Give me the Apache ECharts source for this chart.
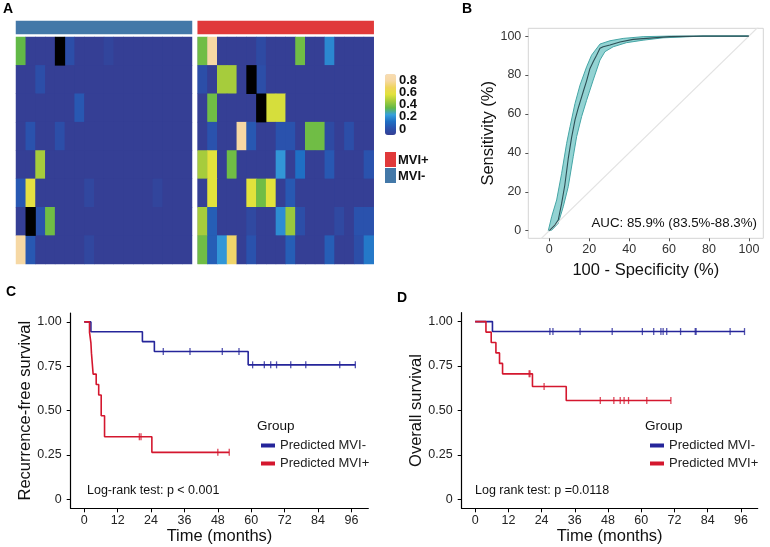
<!DOCTYPE html>
<html><head><meta charset="utf-8">
<script src="https://cdn.jsdelivr.net/npm/echarts@6/dist/echarts.min.js"></script>
<style>html,body{margin:0;padding:0;background:#fff}#c{width:770px;height:547px}</style>
</head><body><div id="c"></div>
<script>
// ---------- Panel A: heatmap ----------
const heatRowIds = ['r1','r2','r3','r4','r5','r6','r7','r8'];
const mviNegColIds = Array.from({length:18},(_,i)=>'n'+(i+1));
const mviPosColIds = Array.from({length:18},(_,i)=>'p'+(i+1));
const mviNegValues = [
  [0.4,0,0,0,1.0,0.08,0,0,0,0.03,0,0,0,0,0,0,0,0],
  [0,0,0.08,0,0,0,0,0,0,0,0,0,0,0,0,0,0,0],
  [0,0,0,0,0,0,0.12,0,0,0,0,0,0,0,0,0,0,0],
  [0,0.1,0,0,0.08,0,0,0,0,0,0,0,0,0,0,0,0,0],
  [0,0,0.5,0,0,0,0,0,0,0,0,0,0,0,0,0,0,0],
  [0.12,0.62,0,0,0,0,0,0.04,0,0,0,0,0,0,0.03,0,0,0],
  [0,1.0,0.1,0.42,0,0,0,0,0,0,0,0,0,0,0,0,0,0],
  [0.8,0.12,0,0,0,0,0,0.04,0,0,0,0,0,0,0,0,0,0]
];
const mviPosValues = [
  [0.42,0.8,0,0,0,0,0.06,0,0,0,0.42,0,0,0.25,0,0,0,0],
  [0.08,0,0.5,0.5,0,1.0,0.08,0,0,0,0,0,0,0,0,0,0,0],
  [0,0.42,0,0,0,0,1.0,0.58,0.58,0,0,0,0,0,0,0,0,0],
  [0,0.1,0,0,0.8,0.12,0,0,0.1,0.1,0,0.42,0.42,0.06,0,0.08,0,0],
  [0.5,0.6,0,0.42,0,0,0,0,0.28,0,0.2,0,0,0.12,0,0,0,0.1],
  [0,0.6,0,0,0,0.6,0.42,0.6,0,0.12,0,0,0,0,0,0,0,0],
  [0.5,0.14,0,0,0,0.05,0,0,0.26,0.48,0.08,0,0,0,0.05,0,0.1,0.1],
  [0.42,0.14,0.28,0.72,0,0.1,0,0,0,0.14,0,0,0,0.14,0,0,0.08,0.22]
];
const colorScaleMax = 0.9;
const colorScaleColors = ['#353f95','#2a52ad','#1f6fc4','#37a0dc','#62b947','#a6cc3c','#e2e23c','#efd45c','#f6d8a4','#f8dcb2'];
const colorbarTicks = [0,0.2,0.4,0.6,0.8];
const groupNames = ['MVI-','MVI+'];
const groupColors = {'MVI-':'#4378a8','MVI+':'#e0393a'};

// ---------- Panel B: ROC ----------
const rocCurve = [[0,0],[2.8,2.9],[4.5,5.5],[6.2,14],[7.8,23.5],[9.5,37],[11.2,48],[12.9,57],[14.5,63],[17,71.4],[18.7,77],[20.4,83.4],[22,86.8],[23.7,90.2],[25.4,93.7],[27,94.5],[30.4,95.4],[35.4,97],[42,98.3],[52,99.1],[60.4,99.7],[77,100],[100,100]];
const rocUpper = [[-0.5,0],[1.2,7.2],[3.7,15.8],[6.2,29.5],[8.7,44.9],[10.4,53.4],[12.9,65.4],[15.4,74.8],[18.7,84.2],[21.2,90.2],[25.4,95.9],[30.4,97.6],[37,98.8],[47,99.7],[60.4,100],[100,100]];
const rocLower = [[0,0],[1.2,0.3],[4.5,3.8],[7,12.3],[9.5,22.6],[12,38],[13.7,48.3],[16.2,58.6],[18.7,67],[22,77.4],[25.4,87.7],[27.9,92],[32,94.5],[38.6,96.6],[47,97.9],[57,99.1],[70.4,99.7],[77,100],[100,100]];
const rocTicks = [0,20,40,60,80,100];
const aucText = 'AUC: 85.9% (83.5%-88.3%)';

// ---------- Panels C/D: Kaplan-Meier ----------
const kmTimeTicks = [0,12,24,36,48,60,72,84,96];
const kmSurvTicks = [0,0.25,0.5,0.75,1];
const rfsNeg = [[0,1],[2.4,0.944],[20.9,0.889],[25.2,0.833],[58.9,0.758],[97.4,0.758]];
const rfsNegCensor = [[28.4,0.833],[38.0,0.833],[49.6,0.833],[55.6,0.833],[60.5,0.758],[64.7,0.758],[67.0,0.758],[69.1,0.758],[74.2,0.758],[79.6,0.758],[91.8,0.758],[97.4,0.758]];
const rfsPos = [[0,1],[1.9,0.941],[2.4,0.882],[2.6,0.824],[2.9,0.765],[3.2,0.706],[4.3,0.647],[5.2,0.588],[6.1,0.471],[7.3,0.353],[24.3,0.265],[52.1,0.265]];
const rfsPosCensor = [[19.8,0.353],[20.4,0.353],[48.0,0.265],[52.1,0.265]];
const osNeg = [[0,1],[6.25,0.944],[97.3,0.944]];
const osNegCensor = [[27.0,0.944],[28.1,0.944],[37.9,0.944],[49.5,0.944],[60.4,0.944],[64.5,0.944],[67.1,0.944],[67.9,0.944],[69.2,0.944],[74.2,0.944],[79.5,0.944],[79.8,0.944],[92.1,0.944],[97.3,0.944]];
const osPos = [[0,1],[3.9,0.941],[5.8,0.882],[7.5,0.824],[8.8,0.765],[9.9,0.706],[20.7,0.635],[32.9,0.556],[70.7,0.556]];
const osPosCensor = [[19.5,0.706],[19.8,0.706],[24.9,0.635],[45.2,0.556],[50.1,0.556],[52.4,0.556],[53.8,0.556],[55.4,0.556],[62.0,0.556],[70.7,0.556]];
const kmNames = ['Predicted MVI-','Predicted MVI+'];
const kmColors = ['#25259a','#d4172e'];

const FONT = 'Liberation Sans, Arial, Helvetica, sans-serif';

function heatData(values, keepSaturated){
  const out = [];
  values.forEach((row,r)=>row.forEach((v,c)=>{
    const sat = v > colorScaleMax;
    if (sat === keepSaturated) out.push([c,r,v]);
  }));
  return out;
}

const chart = echarts.init(document.getElementById('c'), null, {renderer:'canvas'});

const kmX = (gi, name) => ({
  gridIndex: gi, type:'value', min:-4.86, max:102.06,
  axisLine:{show:true, onZero:false, lineStyle:{color:'#000', width:1.2}},
  axisTick:{show:true, length:4, lineStyle:{color:'#000'}, customValues: kmTimeTicks},
  axisLabel:{customValues: kmTimeTicks, color:'#222', fontSize:12.5, fontFamily:FONT, margin:6, showMinLabel:true, showMaxLabel:true},
  splitLine:{show:false},
  name, nameLocation:'middle', nameGap:16, nameTextStyle:{fontSize:16.5, color:'#111', fontFamily:FONT}
});
const kmY = (gi, name) => ({
  gridIndex: gi, type:'value', min:-0.05, max:1.05,
  axisLine:{show:true, onZero:false, lineStyle:{color:'#000', width:1.2}},
  axisTick:{show:true, length:4, lineStyle:{color:'#000'}, customValues: kmSurvTicks},
  axisLabel:{customValues: kmSurvTicks, color:'#222', fontSize:12.5, fontFamily:FONT, margin:9, showMinLabel:true, showMaxLabel:true,
    formatter: v => v === 0 ? '0' : v.toFixed(2)},
  splitLine:{show:false},
  name, nameLocation:'middle', nameGap:35, nameTextStyle:{fontSize:16.5, color:'#111', fontFamily:FONT}
});

const kmLine = (name, data, color, xi) => ({
  type:'line', name, data, step:'end', xAxisIndex:xi, yAxisIndex:xi, symbol:'none',
  lineStyle:{color, width:1.6}, itemStyle:{color}, silent:true
});
const kmCens = (data, color, xi) => ({
  type:'scatter', name:'censor', data, xAxisIndex:xi, yAxisIndex:xi, symbol:'rect', symbolSize:[1.3,7],
  itemStyle:{color}, silent:true
});

const staticGraphics = [
  {type:'text', left:3, top:2, style:{text:'A', font:'bold 14px '+FONT, fill:'#000'}},
  {type:'text', left:462, top:2, style:{text:'B', font:'bold 14px '+FONT, fill:'#000'}},
  {type:'text', left:6, top:285, style:{text:'C', font:'bold 14px '+FONT, fill:'#000'}},
  {type:'text', left:397, top:291, style:{text:'D', font:'bold 14px '+FONT, fill:'#000'}},
  {type:'rect', shape:{x:385, y:152, width:11, height:15}, style:{fill:groupColors['MVI+']}},
  {type:'rect', shape:{x:385, y:168, width:11, height:15}, style:{fill:groupColors['MVI-']}},
  {type:'text', x:398, y:160, style:{text:'MVI+', font:'bold 13px '+FONT, fill:'#111', verticalAlign:'middle'}},
  {type:'text', x:398, y:176, style:{text:'MVI-', font:'bold 13px '+FONT, fill:'#111', verticalAlign:'middle'}},
  {type:'text', x:757, y:223, style:{text:aucText, font:'13.3px '+FONT, fill:'#111', align:'right', verticalAlign:'middle'}},
  {type:'text', x:257, y:426, style:{text:'Group', font:'13.5px '+FONT, fill:'#111', verticalAlign:'middle'}},
  {type:'text', x:645, y:426, style:{text:'Group', font:'13.5px '+FONT, fill:'#111', verticalAlign:'middle'}},
  {type:'text', x:87, y:491, style:{text:'Log-rank test: p < 0.001', font:'12.5px '+FONT, fill:'#111', verticalAlign:'middle'}},
  {type:'text', x:475, y:491, style:{text:'Log rank test: p =0.0118', font:'12.5px '+FONT, fill:'#111', verticalAlign:'middle'}}
];

const option = {
  animation:false,
  textStyle:{fontFamily:FONT},
  grid:[
    {left:16, top:37, width:176, height:227, show:true, backgroundColor:colorScaleColors[0], borderWidth:0},
    {left:197.7, top:37, width:176, height:227, show:true, backgroundColor:colorScaleColors[0], borderWidth:0},
    {left:16, top:21, width:176, height:13},
    {left:197.7, top:21, width:176, height:13},
    {left:385, top:74, width:11, height:61},
    {left:528.3, top:28.3, width:235, height:210, show:true, borderColor:'#d4d4d4', borderWidth:1},
    {left:70.7, top:313, width:297.6, height:195.3},
    {left:461.7, top:312.7, width:296, height:195.6}
  ],
  xAxis:[
    {gridIndex:0, type:'category', data:mviNegColIds, show:false},
    {gridIndex:1, type:'category', data:mviPosColIds, show:false},
    {gridIndex:2, type:'category', data:[groupNames[0]], show:false},
    {gridIndex:3, type:'category', data:[groupNames[1]], show:false},
    {gridIndex:4, type:'value', show:false, min:0, max:1},
    {gridIndex:5, type:'value', min:-10.5, max:107.2,
      axisLine:{show:false, onZero:false}, axisTick:{show:true, length:3, lineStyle:{color:'#555'}, customValues: rocTicks},
      axisLabel:{customValues: rocTicks, color:'#333', fontSize:12.5, fontFamily:FONT, margin:5, showMinLabel:true, showMaxLabel:true},
      splitLine:{show:false},
      name:'100 - Specificity (%)', nameLocation:'middle', nameGap:24, nameTextStyle:{fontSize:16.5, color:'#111', fontFamily:FONT}},
    kmX(6,'Time (months)'),
    kmX(7,'Time (months)')
  ],
  yAxis:[
    {gridIndex:0, type:'category', data:heatRowIds, inverse:true, show:false},
    {gridIndex:1, type:'category', data:heatRowIds, inverse:true, show:false},
    {gridIndex:2, type:'category', data:[''], show:false},
    {gridIndex:3, type:'category', data:[''], show:false},
    {gridIndex:4, type:'value', min:-0.114, max:0.882, show:false},
    {gridIndex:5, type:'value', min:-3.9, max:104,
      axisLine:{show:false, onZero:false}, axisTick:{show:true, length:3, lineStyle:{color:'#555'}, customValues: rocTicks},
      axisLabel:{customValues: rocTicks, color:'#333', fontSize:12.5, fontFamily:FONT, margin:7, showMinLabel:true, showMaxLabel:true},
      splitLine:{show:false},
      name:'Sensitivity (%)', nameLocation:'middle', nameGap:29, nameTextStyle:{fontSize:16.5, color:'#111', fontFamily:FONT}},
    kmY(6,'Recurrence-free survival'),
    kmY(7,'Overall survival')
  ],
  visualMap:[{
    type:'continuous', seriesIndex:[0,1], min:0, max:colorScaleMax, calculable:false,
    orient:'vertical', left:385, top:74, itemWidth:11, itemHeight:61, padding:0,
    inRange:{color:colorScaleColors}, hoverLink:false
  }],
  legend:[
    {data:kmNames, orient:'vertical', left:256, top:434, icon:'rect', itemWidth:14, itemHeight:4, itemGap:5,
      selectedMode:false, textStyle:{fontSize:13, color:'#222', fontFamily:FONT}},
    {data:kmNames, orient:'vertical', left:645, top:434, icon:'rect', itemWidth:14, itemHeight:4, itemGap:5,
      selectedMode:false, textStyle:{fontSize:13, color:'#222', fontFamily:FONT}}
  ],
  series:[
    {type:'heatmap', xAxisIndex:0, yAxisIndex:0, data:heatData(mviNegValues,false), silent:true},
    {type:'heatmap', xAxisIndex:1, yAxisIndex:1, data:heatData(mviPosValues,false), silent:true},
    {type:'heatmap', xAxisIndex:0, yAxisIndex:0, data:heatData(mviNegValues,true), itemStyle:{color:'#000'}, silent:true},
    {type:'heatmap', xAxisIndex:1, yAxisIndex:1, data:heatData(mviPosValues,true), itemStyle:{color:'#000'}, silent:true},
    {type:'heatmap', xAxisIndex:2, yAxisIndex:2, data:[[0,0,1]], itemStyle:{color:groupColors['MVI-']}, silent:true},
    {type:'heatmap', xAxisIndex:3, yAxisIndex:3, data:[[0,0,1]], itemStyle:{color:groupColors['MVI+']}, silent:true},
    {type:'line', xAxisIndex:5, yAxisIndex:5, data:[[-10.5,-10.5],[107.2,107.2]], symbol:'none',
      lineStyle:{color:'#e3e3e3', width:1.2}, silent:true, clip:true},
    {type:'custom', xAxisIndex:5, yAxisIndex:5, data:[[0,0]], silent:true, clip:true,
      renderItem:(params, api) => {
        const pts = rocUpper.concat(rocLower.slice().reverse()).map(p => api.coord(p));
        return {type:'polygon', shape:{points:pts}, style:{fill:'#93d3d3', stroke:'#45a5a5', lineWidth:1}};
      }},
    {type:'line', xAxisIndex:5, yAxisIndex:5, data:rocCurve, symbol:'none',
      lineStyle:{color:'#2d4f55', width:1.1}, silent:true},
    kmLine(kmNames[0], rfsNeg, kmColors[0], 6),
    kmLine(kmNames[1], rfsPos, kmColors[1], 6),
    kmCens(rfsNegCensor, kmColors[0], 6),
    kmCens(rfsPosCensor, kmColors[1], 6),
    kmLine(kmNames[0], osNeg, kmColors[0], 7),
    kmLine(kmNames[1], osPos, kmColors[1], 7),
    kmCens(osNegCensor, kmColors[0], 7),
    kmCens(osPosCensor, kmColors[1], 7)
  ],
  graphic: staticGraphics
};
chart.setOption(option);

// colorbar tick labels placed through the colorbar grid's value scale
const cbLabels = colorbarTicks.map(v => {
  const p = chart.convertToPixel({gridIndex:4}, [1, v]);
  return {type:'text', x:p[0] + 3, y:p[1] + 1,
    style:{text: v === 0 ? '0' : String(v), font:'bold 13px '+FONT, fill:'#111', verticalAlign:'middle'}};
});
chart.setOption({graphic: staticGraphics.concat(cbLabels)});
</script></body></html>
